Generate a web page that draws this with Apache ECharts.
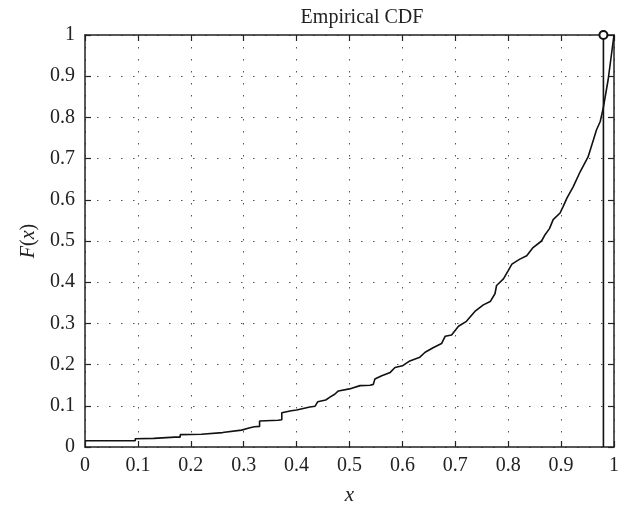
<!DOCTYPE html>
<html>
<head>
<meta charset="utf-8">
<script src="https://cdn.jsdelivr.net/npm/echarts@6/dist/echarts.min.js"></script>
<style>
  html, body { margin: 0; padding: 0; background: #fff; }
  #chart { width: 624px; height: 511px; }
</style>
</head>
<body>
<div id="chart"></div>
<script>
// Empirical CDF traced as a polyline; repeated x values are the visible jumps
const ecdfX = [0.00, 0.095, 0.095, 0.13, 0.17, 0.18, 0.18, 0.22, 0.26, 0.296, 0.31, 0.32, 0.33, 0.33,
  0.365, 0.372, 0.372, 0.39, 0.40, 0.425, 0.435, 0.44, 0.455, 0.463, 0.472, 0.479, 0.50, 0.52, 0.539,
  0.545, 0.548, 0.561, 0.577, 0.586, 0.60, 0.614, 0.633, 0.643, 0.658, 0.674, 0.681, 0.693, 0.706,
  0.721, 0.737, 0.753, 0.766, 0.775, 0.778, 0.791, 0.80, 0.807, 0.822, 0.835, 0.847, 0.863, 0.870,
  0.878, 0.885, 0.898, 0.904, 0.911, 0.923, 0.936, 0.951, 0.961, 0.967, 0.974, 0.980, 0.989, 1.000];
const ecdfY = [0.015, 0.015, 0.020, 0.021, 0.024, 0.024, 0.030, 0.031, 0.035, 0.041, 0.046, 0.049, 0.050, 0.063,
  0.065, 0.066, 0.083, 0.088, 0.090, 0.097, 0.099, 0.110, 0.114, 0.121, 0.128, 0.136, 0.141, 0.149, 0.150,
  0.152, 0.165, 0.173, 0.181, 0.193, 0.197, 0.209, 0.218, 0.230, 0.241, 0.251, 0.269, 0.272, 0.293,
  0.305, 0.329, 0.345, 0.353, 0.372, 0.392, 0.408, 0.428, 0.444, 0.456, 0.464, 0.484, 0.500, 0.516,
  0.530, 0.552, 0.568, 0.584, 0.604, 0.632, 0.668, 0.704, 0.745, 0.770, 0.790, 0.825, 0.892, 1.000];

// Stem marking a single value
const stemX = [0.98, 0.98];
const stemY = [0, 1];

// Axis ticks
const xTicks = [0, 0.1, 0.2, 0.3, 0.4, 0.5, 0.6, 0.7, 0.8, 0.9, 1];
const yTicks = [0, 0.1, 0.2, 0.3, 0.4, 0.5, 0.6, 0.7, 0.8, 0.9, 1];

const FONT = '"Liberation Serif", "DejaVu Serif", serif';
const INK = '#222';

const fmt = v => String(Math.round(v * 10) / 10);

const chart = echarts.init(document.getElementById('chart'), null, { renderer: 'canvas' });

const boxAxis = {
  min: 0, max: 1, interval: 0.1,
  axisLine: { show: true, onZero: false, lineStyle: { color: INK, width: 1.5 } },
  axisTick: { show: true, inside: true, length: 6, lineStyle: { color: INK, width: 1.2 } },
  axisLabel: { show: false },
  splitLine: { show: false }
};

chart.setOption({
  animation: false,
  backgroundColor: '#fff',
  title: {
    text: 'Empirical CDF',
    left: 357, top: 3,
    textAlign: 'center',
    textStyle: { fontFamily: FONT, fontSize: 20, fontWeight: 'normal', color: INK }
  },
  grid: { left: 85, right: 10, top: 35, bottom: 59, containLabel: false },
  xAxis: [
    {
      type: 'value', position: 'bottom',
      min: 0, max: 1, interval: 0.1,
      name: 'x', nameLocation: 'middle', nameGap: 38,
      nameTextStyle: { fontFamily: FONT, fontSize: 21, fontStyle: 'italic', color: INK },
      axisLine: { show: true, onZero: false, lineStyle: { color: INK, width: 1.5 } },
      axisTick: { show: true, inside: true, length: 6, lineStyle: { color: INK, width: 1.2 } },
      axisLabel: {
        margin: 9, fontFamily: FONT, fontSize: 20, color: INK,
        formatter: v => xTicks.some(t => Math.abs(t - v) < 1e-9) ? fmt(v) : ''
      },
      splitLine: { show: true, lineStyle: { color: '#555', width: 1, type: [1.5, 10.5] } }
    },
    Object.assign({ type: 'value', position: 'top' }, boxAxis)
  ],
  yAxis: [
    {
      type: 'value', position: 'left',
      min: 0, max: 1, interval: 0.1,
      name: '{i|F}({i|x})', nameLocation: 'middle', nameGap: 40, nameRotate: 90,
      nameTextStyle: {
        fontFamily: FONT, fontSize: 20, color: INK,
        rich: { i: { fontFamily: FONT, fontSize: 20, fontStyle: 'italic', color: INK } }
      },
      axisLine: { show: true, onZero: false, lineStyle: { color: INK, width: 1.5 } },
      axisTick: { show: true, inside: true, length: 6, lineStyle: { color: INK, width: 1.2 } },
      axisLabel: {
        margin: 10, fontFamily: FONT, fontSize: 20, color: INK,
        formatter: v => yTicks.some(t => Math.abs(t - v) < 1e-9) ? fmt(v) : ''
      },
      splitLine: { show: true, lineStyle: { color: '#555', width: 1, type: [1.5, 10.5] } }
    },
    Object.assign({ type: 'value', position: 'right' }, boxAxis)
  ],
  series: [
    {
      type: 'line',
      data: ecdfX.map((x, i) => [x, ecdfY[i]]),
      showSymbol: false,
      lineStyle: { color: '#111', width: 1.6 },
      silent: true
    },
    {
      type: 'line',
      clip: false,
      data: [
        { value: [stemX[0], stemY[0]], symbol: 'none' },
        { value: [stemX[1], stemY[1]], symbol: 'emptyCircle', symbolSize: 8 }
      ],
      lineStyle: { color: '#111', width: 1.6 },
      itemStyle: { color: '#111', borderColor: '#111', borderWidth: 1.2 },
      silent: true
    }
  ]
});
</script>
</body>
</html>
